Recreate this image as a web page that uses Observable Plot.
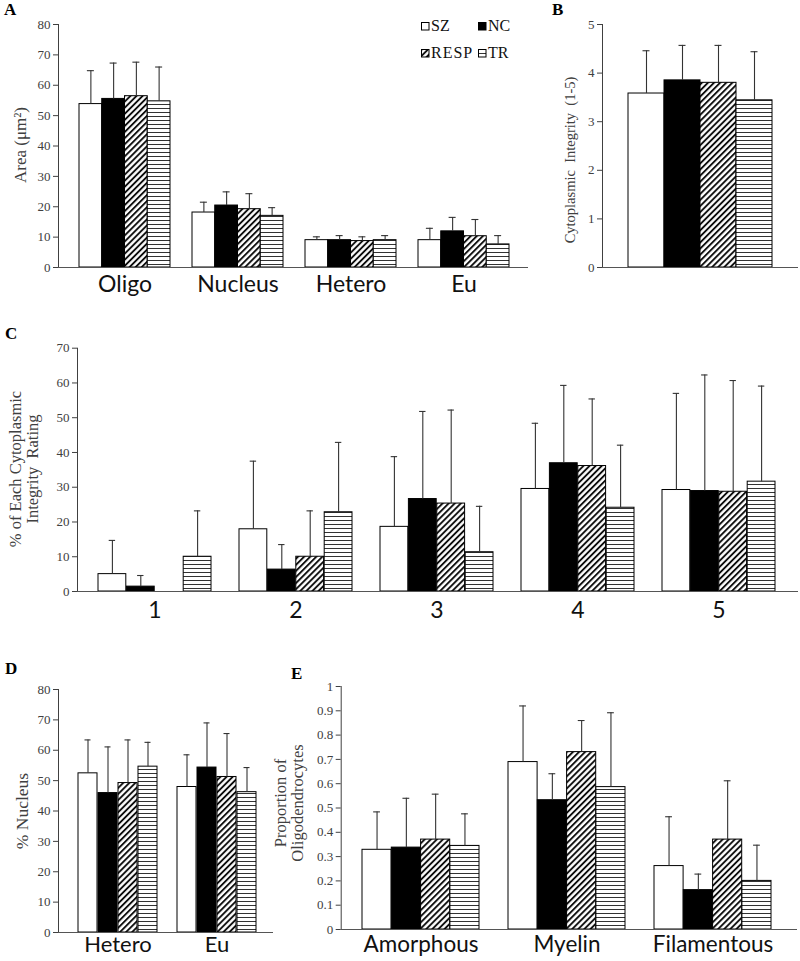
<!DOCTYPE html>
<html>
<head>
<meta charset="utf-8">
<script src="https://cdn.jsdelivr.net/npm/d3@7"></script>
<script src="https://cdn.jsdelivr.net/npm/@observablehq/plot@0.6"></script>
<style>
  body { margin: 0; background: #fff; }
  #page { position: relative; width: 800px; height: 961px; overflow: hidden; background: #fff; }
  .panel { position: absolute; }
  .letter { position: absolute; font-family: "Liberation Serif", serif; font-weight: bold; font-size: 17px; color: #000; line-height: 1; }
  .ytitle { position: absolute; font-family: "Liberation Serif", serif; color: #404040; white-space: pre; text-align: center;
            transform: translate(-50%, -50%) rotate(-90deg); line-height: 17px; }
  .leg { position: absolute; font-family: "Liberation Serif", serif; font-size: 16px; color: #111; white-space: nowrap; line-height: 1; display: flex; align-items: center; }
  .leg svg { margin-right: 1px; }
</style>
</head>
<body>
<div id="page">
  <svg width="0" height="0" style="position:absolute">
    <defs>
      <pattern id="diag" patternUnits="userSpaceOnUse" width="4.3" height="4.3" patternTransform="rotate(45)">
        <rect width="4.3" height="4.3" fill="#fff"/>
        <line x1="1" y1="-1" x2="1" y2="5.3" stroke="#000" stroke-width="1.8"/>
      </pattern>
      <pattern id="horiz" patternUnits="userSpaceOnUse" width="4" height="4">
        <rect width="4" height="4" fill="#fff"/>
        <line x1="-1" y1="0.5" x2="5" y2="0.5" stroke="#333" stroke-width="1"/>
      </pattern>
    </defs>
  </svg>
</div>
<script>
// ---------- data ----------
const series = ["SZ", "NC", "RESP", "TR"];
const fills = ["#ffffff", "#000000", "url(#diag)", "url(#horiz)"];

// Panel A: Area (µm²); rows = series, columns = groups
const groupsA = ["Oligo", "Nucleus", "Hetero", "Eu"];
const meansA = [[53.8, 18.1, 9.0, 9.0], [55.5, 20.4, 9.0, 11.9], [56.4, 19.2, 8.7, 10.3], [54.7, 17.0, 9.0, 7.6]];
const errsA  = [[11.0, 3.4, 1.1, 3.9], [11.8, 4.5, 1.5, 4.6], [11.2, 5.1, 1.4, 5.5], [11.3, 2.7, 1.5, 2.9]];
const ticksA = [0, 10, 20, 30, 40, 50, 60, 70, 80];

// Panel B: Cytoplasmic integrity (1-5)
const groupsB = ["Cytoplasmic Integrity"];
const meansB = [[3.58], [3.85], [3.80], [3.44]];
const errsB  = [[0.88], [0.72], [0.77], [1.00]];
const ticksB = [0, 1, 2, 3, 4, 5];

// Panel C: % of each cytoplasmic integrity rating
const groupsC = ["1", "2", "3", "4", "5"];
const meansC = [[5.0, 17.9, 18.6, 29.5, 29.2], [1.4, 6.3, 26.6, 36.9, 28.9], [0, 10.0, 25.3, 36.1, 28.7], [10.0, 22.8, 11.3, 24.1, 31.6]];
const errsC  = [[9.7, 19.6, 20.2, 18.9, 27.8], [3.2, 7.2, 25.2, 22.4, 33.4], [0, 13.2, 26.9, 19.3, 32.0], [13.2, 20.1, 13.2, 18.0, 27.5]];
const ticksC = [0, 10, 20, 30, 40, 50, 60, 70];

// Panel D: % Nucleus
const groupsD = ["Hetero", "Eu"];
const meansD = [[52.4, 47.9], [45.9, 54.3], [49.2, 51.2], [54.6, 46.2]];
const errsD  = [[11.0, 10.6], [15.2, 14.7], [14.2, 14.3], [8.0, 8.1]];
const ticksD = [0, 10, 20, 30, 40, 50, 60, 70, 80];

// Panel E: Proportion of oligodendrocytes
const groupsE = ["Amorphous", "Myelin", "Filamentous"];
const meansE = [[0.328, 0.689, 0.261], [0.337, 0.532, 0.162], [0.370, 0.730, 0.370], [0.344, 0.586, 0.200]];
const errsE  = [[0.156, 0.231, 0.203], [0.203, 0.109, 0.066], [0.187, 0.130, 0.242], [0.132, 0.306, 0.147]];
const ticksE = [0, 0.1, 0.2, 0.3, 0.4, 0.5, 0.6, 0.7, 0.8, 0.9, 1];

// ---------- drawing ----------
const page = document.getElementById("page");
const CAP = 7;

function drawPanel(cfg) {
  const {groups, means, errs, ticks, fmt, left, top, width, height, ml, mt, mb, mr, centers, barW, labelPad, labelSize, showX} = cfg;
  const rows = [];
  series.forEach((s, i) => groups.forEach((g, j) =>
    rows.push({series: s, i, group: g, value: means[i][j], err: errs[i][j]})));
  const bw = 4 * barW;
  const c = centers.map(v => v - left);
  let xOpts;
  if (groups.length > 1) {
    const step = (c[c.length - 1] - c[0]) / (groups.length - 1);
    const pi = 1 - bw / step;
    xOpts = {domain: groups, range: [c[0] - step / 2, c[c.length - 1] + step / 2], paddingInner: pi, paddingOuter: pi / 2};
  } else {
    xOpts = {domain: groups, range: [c[0] - bw / 2, c[0] + bw / 2], padding: 0};
  }
  const marks = [];
  series.forEach((s, i) => {
    const d = rows.filter(r => r.i === i);
    const de = d.filter(r => r.err > 0);
    marks.push(Plot.barY(d, {x: "group", y: "value", fill: "series", stroke: "#000", strokeWidth: 1,
      insetLeft: i * barW, insetRight: (3 - i) * barW}));
    marks.push(Plot.ruleX(de, {x: "group", y1: "value", y2: r => r.value + r.err, dx: (i - 1.5) * barW, stroke: "#333", strokeWidth: 1.1}));
    marks.push(Plot.tickY(de, {x: "group", y: r => r.value + r.err, stroke: "#333", strokeWidth: 1.1,
      insetLeft: i * barW + (barW - CAP) / 2, insetRight: (3 - i) * barW + (barW - CAP) / 2}));
  });
  marks.push(Plot.ruleY([0], {stroke: "#555"}));
  if (showX) marks.push(Plot.axisX({tickSize: 0, tickPadding: labelPad, fontSize: labelSize || 23, fontFamily: "Lato", color: "#111", label: null}));
  const svg = Plot.plot({
    width, height,
    marginLeft: ml, marginTop: mt, marginBottom: mb, marginRight: mr,
    style: {fontFamily: "Liberation Serif", fontSize: "13px", color: "#404040", background: "none", overflow: "visible"},
    x: showX ? {...xOpts, label: null} : {...xOpts, axis: null},
    y: {domain: [ticks[0], ticks[ticks.length - 1]], ticks, tickFormat: fmt, tickSize: 5, tickPadding: 3, line: true, label: null},
    color: {domain: series, range: fills},
    marks
  });
  const div = document.createElement("div");
  div.className = "panel";
  div.style.left = left + "px";
  div.style.top = top + "px";
  div.appendChild(svg);
  page.appendChild(div);
}

const f0 = d3.format("d");
const f1 = d => d3.format("~g")(+d.toFixed(1));

drawPanel({groups: groupsA, means: meansA, errs: errsA, ticks: ticksA, fmt: f0,
  left: 0, top: 0, width: 540, height: 300, ml: 58, mt: 24, mb: 33, mr: 12,
  centers: [123.5, 237.5, 351.5, 463.5], barW: 22.75, labelPad: 8, showX: true});
drawPanel({groups: groupsB, means: meansB, errs: errsB, ticks: ticksB, fmt: f0,
  left: 540, top: 0, width: 260, height: 300, ml: 62, mt: 24, mb: 33, mr: 2,
  centers: [700], barW: 36, labelPad: 8, showX: false});
drawPanel({groups: groupsC, means: meansC, errs: errsC, ticks: ticksC, fmt: f0,
  left: 0, top: 300, width: 800, height: 325, ml: 77, mt: 47.7, mb: 34, mr: 2,
  centers: [153.5, 295.1, 436.8, 578.4, 720], barW: 28.4, labelPad: 10, showX: true});
drawPanel({groups: groupsD, means: meansD, errs: errsD, ticks: ticksD, fmt: f0,
  left: 0, top: 625, width: 285, height: 336, ml: 58, mt: 64, mb: 29, mr: 12,
  centers: [117.7, 217.5], barW: 20, labelPad: 4, labelSize: 22, showX: true});
drawPanel({groups: groupsE, means: meansE, errs: errsE, ticks: ticksE, fmt: f1,
  left: 285, top: 625, width: 515, height: 336, ml: 55.7, mt: 61, mb: 32, mr: 3,
  centers: [420.5, 566.5, 712.5], barW: 29.3, labelPad: 7, labelSize: 22.5, showX: true});

// ---------- panel letters ----------
const letters = [["A", 4, 1], ["B", 552, 1], ["C", 5, 325], ["D", 5, 660], ["E", 291, 665]];
letters.forEach(([t, x, y]) => {
  const el = document.createElement("div");
  el.className = "letter"; el.textContent = t;
  el.style.left = x + "px"; el.style.top = y + "px";
  page.appendChild(el);
});

// ---------- y-axis titles ----------
const titles = [
  ["Area (μm²)", 20, 145, 17],
  ["Cytoplasmic  Integrity  (1-5)", 570, 160, 14.5],
  ["% of Each Cytoplasmic\nIntegrity  Rating", 24, 469, 16.5],
  ["% Nucleus", 22, 811, 17.5],
  ["Proportion of\nOligodendrocytes", 289, 803, 16.5]
];
titles.forEach(([t, x, y, fs]) => {
  const el = document.createElement("div");
  el.className = "ytitle"; el.textContent = t;
  el.style.left = x + "px"; el.style.top = y + "px"; el.style.fontSize = fs + "px";
  page.appendChild(el);
});

// ---------- legend (panel A) ----------
const legPos = [[421, 18], [478, 18], [421, 45], [478, 45]];
series.forEach((s, i) => {
  const el = document.createElement("div");
  el.className = "leg";
  el.style.left = legPos[i][0] + "px"; el.style.top = legPos[i][1] + "px";
  el.innerHTML = `<svg width="9" height="9"><rect x="0.5" y="0.5" width="7.5" height="7.5" fill="${fills[i]}" stroke="#000" stroke-width="1"/></svg><span style="letter-spacing:${s === "RESP" ? 1 : 0}px">${s}</span>`;
  page.appendChild(el);
});
</script>
</body>
</html>
